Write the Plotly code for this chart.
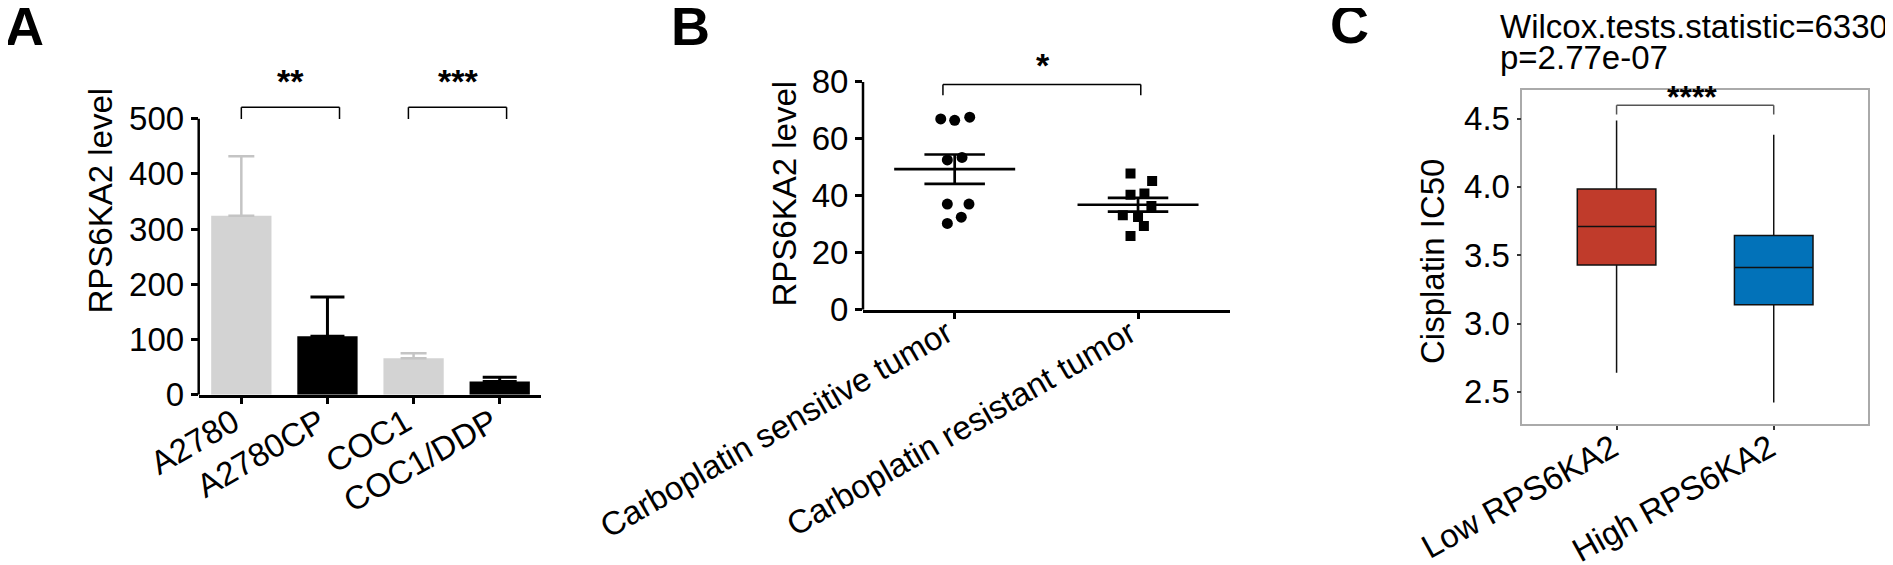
import numpy as np
import plotly.graph_objects as go

W, H = 1893, 565
FONT = "Liberation Sans, Arial, sans-serif"

# ---- panel A: cell line bar chart ----
cell_lines = ["A2780", "A2780CP", "COC1", "COC1/DDP"]
cell_means = [324, 106, 66, 24]
cell_sem = [108, 71, 9, 7.5]
sens_lines = [0, 2]   # parental (grey)
res_lines = [1, 3]    # resistant (black)
a_pairs = [(0, 1.14), (1.94, 3.08)]
a_labels = ["**", "***"]

# ---- panel B: tumour scatter ----
tumor_groups = ["Carboplatin sensitive tumor", "Carboplatin resistant tumor"]
sensitive_vals = [67.0, 66.5, 67.6, 52.6, 53.5, 37.1, 37.1, 32.5, 30.3]
sensitive_jitter = [-0.076, 0, 0.082, -0.04, 0.04, -0.04, 0.078, 0.036, -0.04]
resistant_vals = [47.8, 45.2, 40.4, 40.8, 33.2, 36.4, 32.6, 29.4, 25.9]
resistant_jitter = [-0.041, 0.077, -0.041, 0.035, -0.083, 0.073, 0, 0.032, -0.041]

# ---- panel C: IC50 boxplot ----
ic50_groups = ["Low RPS6KA2", "High RPS6KA2"]
ic50_q1 = [3.429, 3.138]
ic50_median = [3.711, 3.410]
ic50_q3 = [3.985, 3.645]
ic50_lower = [2.640, 2.421]
ic50_upper = [4.487, 4.381]
ic50_colors = ["#c03b2b", "#0272b9"]


def px_x(p):
    return p / W


def px_y(p):
    return 1 - p / H


fig = go.Figure()

# panel A bars
for idx, color, ecolor, ew, th in [(sens_lines, "#d3d3d3", "#c4c4c4", 13, 2.5),
                                   (res_lines, "#000000", "#000000", 17, 3)]:
    fig.add_trace(go.Bar(
        x=idx, y=[cell_means[i] for i in idx], width=0.7,
        marker=dict(color=color, line=dict(width=0)),
        error_y=dict(type="data", array=[cell_sem[i] for i in idx], arrayminus=[0] * len(idx),
                     symmetric=False, color=ecolor, thickness=th, width=ew),
        xaxis="x", yaxis="y", showlegend=False,
    ))

# panel B points + mean/SEM
for pos, vals, jit, sym in [(0, sensitive_vals, sensitive_jitter, "circle"),
                            (1, resistant_vals, resistant_jitter, "square")]:
    vals = np.array(vals)
    fig.add_trace(go.Scatter(
        x=pos + np.array(jit), y=vals, mode="markers",
        marker=dict(symbol=sym, size=11 if sym == "circle" else 10, color="black"),
        xaxis="x2", yaxis="y2", showlegend=False,
    ))
    m = vals.mean()
    sem = vals.std(ddof=1) / np.sqrt(len(vals))
    xs = [pos - 0.33, pos + 0.33, None, pos - 0.165, pos + 0.165, None,
          pos - 0.165, pos + 0.165, None, pos, pos]
    ys = [m, m, None, m + sem, m + sem, None, m - sem, m - sem, None, m - sem, m + sem]
    fig.add_trace(go.Scatter(x=xs, y=ys, mode="lines", line=dict(color="black", width=2.7),
                             xaxis="x2", yaxis="y2", showlegend=False))

# panel C boxes
for i, g in enumerate(ic50_groups):
    fig.add_trace(go.Box(
        x=[i], q1=[ic50_q1[i]], median=[ic50_median[i]], q3=[ic50_q3[i]],
        lowerfence=[ic50_lower[i]], upperfence=[ic50_upper[i]],
        width=0.5, whiskerwidth=0, fillcolor=ic50_colors[i],
        line=dict(color="#111111", width=1.5), boxpoints=False,
        xaxis="x3", yaxis="y3", showlegend=False, name=g,
    ))

shapes = []
annotations = []


def bracket(xref, yref, x0, x1, lo, hi, color, width):
    for a, b, c, d in [(x0, lo, x0, hi), (x0, hi, x1, hi), (x1, hi, x1, lo)]:
        shapes.append(dict(type="line", xref=xref, yref=yref, x0=a, y0=b, x1=c, y1=d,
                           line=dict(color=color, width=width)))


for (x0, x1), lab in zip(a_pairs, a_labels):
    bracket("x", "y", x0, x1, 499.5, 520.7, "black", 1.5)
    annotations.append(dict(xref="x", yref="y", x=(x0 + x1) / 2, y=569, text="<b>%s</b>" % lab,
                            showarrow=False, xanchor="center", yanchor="middle",
                            font=dict(size=34, color="black")))

bracket("x2", "y2", -0.064, 1.015, 75.3, 79.1, "black", 1.5)
annotations.append(dict(xref="x2", yref="y2", x=0.48, y=86, text="<b>*</b>", showarrow=False,
                        xanchor="center", yanchor="middle", font=dict(size=34, color="black")))

bracket("x3", "y3", 0, 1, 4.531, 4.597, "#555555", 1.5)
annotations.append(dict(xref="x3", yref="y3", x=0.48, y=4.655, text="<b>****</b>", showarrow=False,
                        xanchor="center", yanchor="middle", font=dict(size=32, color="black")))

# manual y axis lines for A and B (stop at the top tick)
shapes.append(dict(type="line", xref="paper", yref="y", x0=px_x(190.7), x1=px_x(190.7), y0=0, y1=500,
                   line=dict(color="black", width=2.5)))
shapes.append(dict(type="line", xref="paper", yref="y2", x0=px_x(855), x1=px_x(855), y0=0, y1=80,
                   line=dict(color="black", width=2.5)))

# y titles
for x, y, t in [(92, 192.5, "RPS6KA2 level"), (776, 185.5, "RPS6KA2 level"), (1424, 254, "Cisplatin IC50")]:
    annotations.append(dict(xref="paper", yref="paper", x=px_x(x), y=px_y(y), text=t, textangle=-90,
                            showarrow=False, xanchor="center", yanchor="middle",
                            font=dict(size=33, color="black")))

# panel letters
for x, y, t in [(-5, -14, "A"), (661, -14, "B"), (1320, -16, "C")]:
    annotations.append(dict(xref="paper", yref="paper", x=px_x(x), y=px_y(y), text="<b>%s</b>" % t,
                            showarrow=False, xanchor="left", yanchor="top", font=dict(size=54, color="black")))

# panel C title
for y, t in [(18.5, "Wilcox.tests.statistic=6330"), (49.5, "p=2.77e-07")]:
    annotations.append(dict(xref="paper", yref="paper", x=px_x(1490), y=px_y(y), text=t, showarrow=False,
                            xanchor="left", yanchor="middle", font=dict(size=33, color="black")))

tickfont = dict(size=33, color="black", family=FONT)
labfont = dict(size=33, color="black", family=FONT)
common = dict(showgrid=False, zeroline=False, automargin=False)

fig.update_layout(
    template="none",
    width=W, height=H,
    margin=dict(l=0, r=0, t=0, b=0, pad=0),
    paper_bgcolor="white", plot_bgcolor="white",
    font=dict(family=FONT, color="black"),
    barmode="overlay", boxmode="overlay", showlegend=False,
    shapes=shapes, annotations=annotations,
    xaxis=dict(domain=[px_x(190.7), px_x(533.3)], range=[-0.495, 3.483],
               tickvals=list(range(len(cell_lines))), ticktext=cell_lines, tickangle=-30,
               ticks="outside", ticklen=7, tickwidth=2.5, tickcolor="black",
               ticklabelstandoff=-14, ticklabelshift=-8,
               showline=True, linecolor="black", linewidth=2.5,
               tickfont=labfont, anchor="y", **common),
    yaxis=dict(domain=[px_y(386.7), px_y(69.3)], range=[0, 575],
               tickvals=[0, 100, 200, 300, 400, 500],
               ticks="outside", ticklen=7, tickwidth=2.5, tickcolor="black",
               showline=False, tickfont=tickfont, anchor="x", **common),
    xaxis2=dict(domain=[px_x(855), px_x(1221.7)], range=[-0.5, 1.5],
                tickvals=[0, 1], ticktext=tumor_groups, tickangle=-30,
                ticks="outside", ticklen=7, tickwidth=2.5, tickcolor="black",
                ticklabelstandoff=-18, ticklabelshift=-8,
                showline=True, linecolor="black", linewidth=2.5,
                tickfont=labfont, anchor="y2", **common),
    yaxis2=dict(domain=[px_y(301.7), px_y(54)], range=[0, 87],
                tickvals=[0, 20, 40, 60, 80],
                ticks="outside", ticklen=7, tickwidth=2.5, tickcolor="black",
                showline=False, tickfont=tickfont, anchor="x2", **common),
    xaxis3=dict(domain=[px_x(1514.3), px_x(1860)], range=[-0.6, 1.6],
                tickvals=[0, 1], ticktext=ic50_groups, tickangle=-29,
                ticks="outside", ticklen=4, tickwidth=1.5, tickcolor="#333333",
                ticklabelstandoff=-14, ticklabelshift=-4,
                showline=True, mirror=True, linecolor="#aaaaaa", linewidth=1.5,
                tickfont=labfont, anchor="y3", **common),
    yaxis3=dict(domain=[px_y(416.2), px_y(82.2)], range=[2.263, 4.708],
                tickvals=[2.5, 3.0, 3.5, 4.0, 4.5], tickformat=".1f",
                ticks="outside", ticklen=4, tickwidth=1.5, tickcolor="#333333",
                showline=True, mirror=True, linecolor="#aaaaaa", linewidth=1.5,
                tickfont=tickfont, anchor="x3", **common),
)

fig.write_html("out.html")
